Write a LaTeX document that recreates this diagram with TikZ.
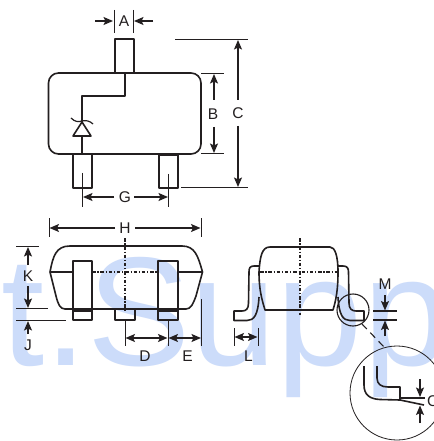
\documentclass[tikz,border=0pt]{standalone}
\usepackage{fontspec}
\setmainfont{Liberation Sans}
\newfontfamily\wmfont[Kerning=Off,Ligatures=NoCommon]{Liberation Sans}
\usetikzlibrary{arrows.meta}
\definecolor{ink}{HTML}{231F20}
\definecolor{wm}{HTML}{CCDCFA}
\tikzset{
  part/.style={draw=ink,line width=1.6bp,line join=round},
  thin part/.style={draw=ink,line width=1.1bp},
  ext/.style={draw=ink,line width=0.9bp},
  dim/.style={draw=ink,line width=1.3bp,-{Stealth[length=9.5bp,width=8bp,inset=2bp]}},
  dimb/.style={draw=ink,line width=1.3bp,{Stealth[length=9.5bp,width=8bp,inset=2bp]}-{Stealth[length=9.5bp,width=8bp,inset=2bp]}},
  axis/.style={draw=ink,line width=1.3bp,dash pattern=on 3.5bp off 1.8bp on 1.2bp off 1.8bp},
  lab/.style={text=ink,font=\fontsize{15.5bp}{15.5bp}\selectfont,inner sep=0pt}
}
\begin{document}
\begin{tikzpicture}[x=1bp,y=-1bp]
\useasboundingbox (0,0) rectangle (434,441);
\clip (0,0) rectangle (434,441);
\fill[white] (0,0) rectangle (434,441);
% watermark
\node[anchor=base west,text=wm,inner sep=0pt,font=\wmfont\fontsize{155bp}{155bp}\selectfont] (wmark) at (1,365) {t.Supp};
% --- top view
\draw[part,rounded corners=10bp] (48.5,73) rectangle (201,154);
\draw[part] (115,39) rectangle (134,72.5);
\draw[part] (73,154) rectangle (92,188);
\draw[part] (159,155) rectangle (178,188);
\draw[part] (125,73) -- (125,96) -- (82,96) -- (82,154);
\draw[part,fill=white] (82,122) -- (73,136) -- (91,136) -- cycle;
\draw[part,line width=1.2bp] (71,118) .. controls (75,122) and (78,122) .. (82,121) .. controls (86,120) and (90,121) .. (93,124);
\draw[ext] (114,10) -- (114,33) (133,10) -- (133,33);
\draw[dim] (95,21) -- (113,21);
\draw[dim] (153,21) -- (134,21);
\node[lab] (la) at (124,21.5) {A};
\draw[ext] (175,39) -- (248,39) (181,187) -- (248,187);
\draw[dim] (238,100) -- (238,40);
\draw[dim] (238,126) -- (238,187);
\node[lab] (lc) at (238,113.5) {C};
\draw[ext] (201,73) -- (224,73) (201,153.5) -- (224,153.5);
\draw[dim] (214,100) -- (214,74);
\draw[dim] (214,127) -- (214,153);
\node[lab] (lb) at (213,114) {B};
\draw[ext] (82.5,173) -- (82.5,207) (168,174) -- (168,207);
\draw[dim] (114,197) -- (83,197);
\draw[dim] (134,197) -- (168,197);
\node[lab] (lg) at (125,197.5) {G};
% --- front view
\draw[ext] (49,218) -- (49,237) (201,218) -- (201,237);
\draw[dim] (115,228) -- (49.5,228);
\draw[dim] (135,228) -- (200.5,228);
\node[lab] (lh) at (125,228) {H};
\draw[part] (50,272) .. controls (53,256) and (56,246) .. (70,246) -- (182,246) .. controls (195,246) and (198,256) .. (202.5,272)
  -- (196,296) .. controls (193,304) and (191,309) .. (186,309) -- (65,309) .. controls (60,309) and (58,304) .. (56,296) -- cycle;
\draw[part] (50,272) -- (73,272) (178,272) -- (202.5,272);
\draw[axis] (92,272) -- (158,272);
\draw[part] (73,261) rectangle (92,320);
\draw[part] (158,261) rectangle (178,320);
\draw[part] (73,311) -- (92,311) (158,311) -- (178,311);
\draw[part] (115,309) rectangle (135,320);
\draw[axis] (125,238) -- (125,310);
\draw[ext] (125,320) -- (125,346) (168,320) -- (168,346) (201.5,299) -- (201.5,346);
\draw[dimb] (125.5,338) -- (167.5,338);
\draw[dimb] (168.5,338) -- (201,338);
\node[lab] (ld) at (145,356.5) {D};
\node[lab] (le) at (187.5,356.5) {E};
\draw[ext] (16,246) -- (39,246) (16,308.5) -- (48,308.5) (16,320) -- (66,320);
\draw[dim] (28,265) -- (28,247);
\draw[dim] (28,286) -- (28,308);
\draw[dim] (28,334) -- (28,321);
\node[lab] (lk) at (28,276) {K};
\node[lab] (lj) at (28,345.5) {J};
% --- side view
\draw[part] (259,272) .. controls (260,256) and (262,247) .. (270,247) -- (330,247) .. controls (335,247) and (338,256) .. (338,272)
  .. controls (338,290) and (336,300) .. (333,310) -- (265,310) .. controls (262,300) and (259,290) .. (259,272) -- cycle;
\draw[axis] (260,272) -- (338,272);
\draw[axis] (300,238) -- (300,315);
\draw[part] (259,266) -- (254,266) .. controls (250,266) and (249,268) .. (249,272) -- (248.5,303) .. controls (248.5,309) and (246,311) .. (242,311) -- (234,311) -- (234,320.5) -- (247,320.5) .. controls (254,320.5) and (258,315) .. (259,297);
\draw[part] (338,266) -- (343,266) .. controls (347,266) and (348.5,268) .. (348.5,272) -- (349,303) .. controls (349,309) and (352,311) .. (356,311) -- (364,311) -- (364,320.5) -- (350,320.5) .. controls (343,320.5) and (339,315) .. (338,297);
\draw[thin part] (353,310) circle (16);
\draw[ext,dash pattern=on 7bp off 5bp,line width=1.1bp] (362,324) -- (385,348);
\draw[thin part,line width=0.8bp] (397,393) circle (47);
\draw[ext,line width=1.2bp] (373,311) -- (397,311) (373,320) -- (397,320);
\draw[dim] (385,295) -- (385,310.5);
\draw[dim] (385,336) -- (385,320.5);
\node[lab] (lm) at (385,284.5) {M};
\draw[ext] (234,328) -- (234,346) (258,328) -- (258,346);
\draw[dimb] (234.5,337) -- (257.5,337);
\node[lab] (ll) at (248.5,356.5) {L};
% detail
\draw[part] (364,366) -- (364,385) .. controls (364,395) and (370,399) .. (380,399.5) -- (400,400) -- (424,405);
\draw[part] (377,366) -- (377,378) .. controls (377,384) and (381,387) .. (388,387) -- (400,387) -- (400,400);
\draw[part] (400,398) -- (425,398);
\draw[dim] (420,379) -- (420,397);
\draw[dim] (420,423) -- (420,405.5);
\node[lab,anchor=west] (lq) at (427,401) {C};
\end{tikzpicture}
\end{document}
